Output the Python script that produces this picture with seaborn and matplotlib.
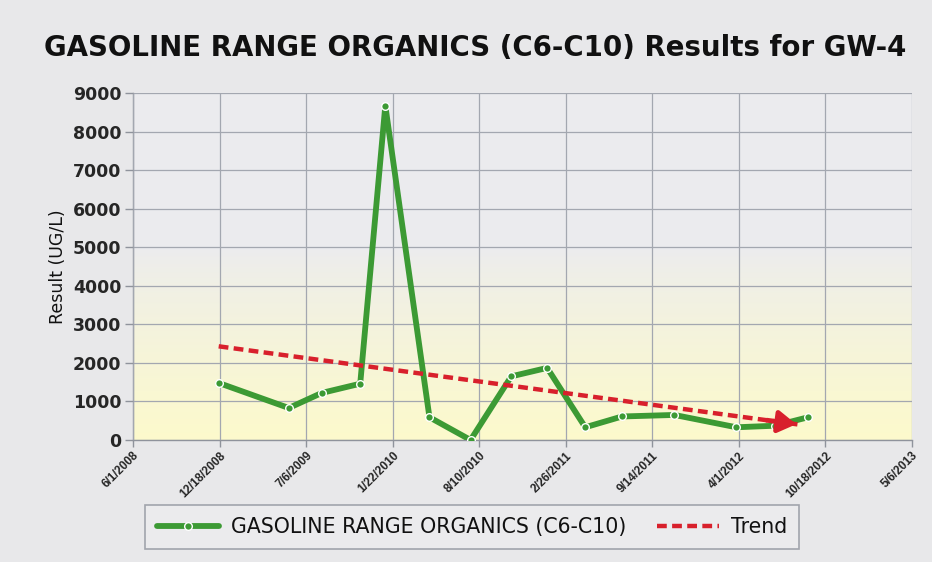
import numpy as np
import pandas as pd
import matplotlib
matplotlib.use("Agg")
import matplotlib.pyplot as plt
import matplotlib.dates as mdates
import seaborn as sns

# ---- data ----
sample_dates = ["2008-12-16", "2009-05-27", "2009-08-11", "2009-11-08", "2010-01-05",
                "2010-04-17", "2010-07-21", "2010-10-23", "2011-01-14", "2011-04-12",
                "2011-07-06", "2011-11-04", "2012-03-26", "2012-06-23", "2012-09-08"]
gro_values = [1480, 830, 1220, 1460, 8670, 590, 0, 1650, 1870, 330, 610, 650, 330, 370, 590]

trend_dates = ["2008-12-16", "2012-08-18"]
trend_values = [2430, 400]

tick_dates = ["2008-06-01", "2008-12-18", "2009-07-06", "2010-01-22", "2010-08-10",
              "2011-02-26", "2011-09-14", "2012-04-01", "2012-10-18", "2013-05-06"]
tick_labels = ["6/1/2008", "12/18/2008", "7/6/2009", "1/22/2010", "8/10/2010",
               "2/26/2011", "9/14/2011", "4/1/2012", "10/18/2012", "5/6/2013"]
y_ticks = [0, 1000, 2000, 3000, 4000, 5000, 6000, 7000, 8000, 9000]

series_label = "GASOLINE RANGE ORGANICS (C6-C10)"
trend_label = "Trend"
title = "GASOLINE RANGE ORGANICS (C6-C10) Results for GW-4"
ylabel = "Result (UG/L)"

df = pd.DataFrame({"date": pd.to_datetime(sample_dates), "value": gro_values})
tdf = pd.DataFrame({"date": pd.to_datetime(trend_dates), "value": trend_values})

sns.set_theme(style="white")
plt.rcParams["font.family"] = ["Liberation Sans", "DejaVu Sans"]
WIDE = ["DejaVu Sans"]

fig = plt.figure(figsize=(9.32, 5.62), dpi=100)
fig.patch.set_facecolor("#e8e8ea")
ax = fig.add_axes([133/932, 1-440/562, (912-133)/932, (440-93)/562])

# background gradient (grey top, pale yellow bottom)
grad = np.zeros((256, 1, 3))
t = np.linspace(0, 1, 256)[:, None]  # 0 top -> 1 bottom
top = np.array([0.925, 0.925, 0.935])
bot = np.array([0.99, 0.98, 0.80])
w = np.clip((t - 0.45) / 0.55, 0, 1) ** 0.8
grad[:, 0, :] = top * (1 - w) + bot * w
ax.imshow(grad, extent=[0, 1, 0, 1], transform=ax.transAxes, aspect="auto", zorder=0)

green = "#3c9a34"
red = "#d8202c"

sns.lineplot(data=df, x="date", y="value", ax=ax, color=green, linewidth=4.2,
             marker="o", markersize=5.5, markerfacecolor=green, markeredgecolor="white",
             markeredgewidth=1.0, label=series_label, zorder=3)
sns.lineplot(data=tdf, x="date", y="value", ax=ax, color=red, linewidth=3.2,
             label=trend_label, zorder=4)
ax.lines[-1].set_linestyle((0, (2.2, 1.2)))
# arrow head at end of trend
x0 = mdates.date2num(tdf["date"].iloc[0]); x1 = mdates.date2num(tdf["date"].iloc[1])
y0 = tdf["value"].iloc[0]; y1 = tdf["value"].iloc[1]
xa = x1 - (x1 - x0) * 0.06
ya = y1 - (y1 - y0) * 0.06
ax.annotate("", xy=(x1, y1), xytext=(xa, ya),
            arrowprops=dict(arrowstyle="-|>,head_length=0.9,head_width=0.55",
                            color=red, lw=3.5), zorder=5)

ax.set_xlim(pd.to_datetime(tick_dates[0]), pd.to_datetime(tick_dates[-1]))
ax.set_ylim(0, 9000)
ax.set_xticks(pd.to_datetime(tick_dates))
ax.set_xticklabels(tick_labels, rotation=45, ha="right", rotation_mode="anchor",
                   fontsize=8.5, fontweight="bold")
ax.set_yticks(y_ticks)
ax.set_yticklabels([str(v) for v in y_ticks], fontsize=12.5, fontweight="bold",
                   family=WIDE)
ax.grid(True, color="#a3a7b0", linewidth=0.9)
ax.set_axisbelow(False)
for s in ["top", "right"]:
    ax.spines[s].set_visible(False)
for s in ["left", "bottom"]:
    ax.spines[s].set_color("#8f939c")
    ax.spines[s].set_linewidth(1.0)
ax.tick_params(axis="y", which="both", direction="out", length=5.8, color="#8f939c",
               width=1, left=True, pad=2.5)
ax.tick_params(axis="x", which="both", direction="out", length=5, color="#8f939c",
               width=1, bottom=True, pad=2)
ax.set_xlabel("")
ax.set_ylabel(ylabel, fontsize=12.5, labelpad=4, family=WIDE, color="#111111")

fig.text(475/932, 1-48/562, title, ha="center", va="center", fontsize=19.9,
         fontweight="bold", family=WIDE, color="#111111")

leg = ax.legend(loc="upper left", bbox_to_anchor=(145/932, 1-505/562),
                bbox_transform=fig.transFigure, borderaxespad=0, ncol=2, frameon=True,
                prop={"family": WIDE, "size": 14.8}, fancybox=False, handlelength=3.0,
                columnspacing=1.5, borderpad=0.58, handletextpad=0.6)
leg.get_frame().set_edgecolor("#8f939c")
leg.get_frame().set_facecolor("#ececee")
leg.get_frame().set_linewidth(1.2)
for txt in leg.get_texts():
    txt.set_color("#111111")

fig.savefig("out.png", dpi=100, facecolor=fig.get_facecolor())
